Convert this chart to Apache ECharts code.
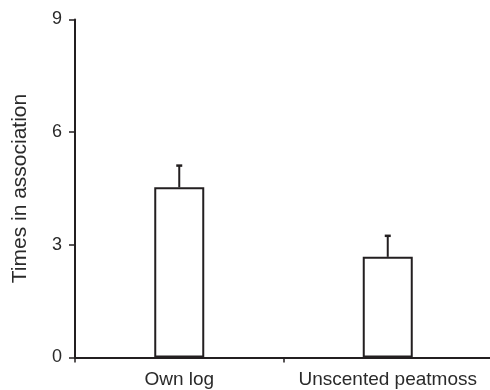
<!DOCTYPE html>
<html>
<head>
    <meta charset="utf-8">
    <script type="text/javascript" src="https://cdn.jsdelivr.net/npm/echarts@6/dist/echarts.min.js"></script>
    <title>Times in association</title>
</head>
<body style="margin:0;">
    <div id="container" style="width:490px;height:390px;"></div>
    <script type="text/javascript">
    // data
    var categories = ['Own log', 'Unscented peatmoss'];
    var means = [4.53, 2.68];
    var errors = [0.58, 0.56];
    var yTicks = [0, 3, 6, 9];

    var ink = '#231f20';
    var font = 'Liberation Sans, Arial, Helvetica, sans-serif';

    var errData = means.map(function (m, i) {
        return [i, m, m + errors[i]];
    });

    var myChart = echarts.init(document.getElementById('container'));

    var option = {
        backgroundColor: '#ffffff',
        animation: false,
        grid: {
            left: 75,
            right: -2,
            top: 19.5,
            bottom: 32.5,
            containLabel: false,
            outerBoundsMode: 'none'
        },
        xAxis: {
            type: 'category',
            data: categories,
            axisLine: { lineStyle: { color: ink, width: 2 } },
            axisTick: { show: true, length: 5, lineStyle: { color: ink, width: 1.5 } },
            axisLabel: { color: '#2a2a2a', fontSize: 19, fontFamily: font, margin: 13, interval: 0, hideOverlap: false }
        },
        yAxis: {
            type: 'value',
            min: yTicks[0],
            max: yTicks[yTicks.length - 1],
            interval: 3,
            splitLine: { show: false },
            axisLine: { show: true, lineStyle: { color: ink, width: 2 } },
            axisTick: { show: true, length: 6, lineStyle: { color: ink, width: 1.5 } },
            axisLabel: { color: '#2a2a2a', fontSize: 18, fontFamily: font, margin: 13 },
            name: 'Times in association',
            nameLocation: 'middle',
            nameGap: 44,
            nameTextStyle: { color: '#2a2a2a', fontSize: 21, fontFamily: font }
        },
        series: [{
            type: 'bar',
            data: means,
            barWidth: 50,
            itemStyle: { color: '#ffffff', borderColor: ink, borderWidth: 2 }
        }, {
            type: 'custom',
            data: errData,
            z: 1,
            renderItem: function (params, api) {
                var base = api.coord([api.value(0), api.value(1)]);
                var top = api.coord([api.value(0), api.value(2)]);
                var half = 3;
                return {
                    type: 'group',
                    children: [{
                        type: 'line',
                        shape: { x1: base[0], y1: base[1], x2: top[0], y2: top[1] },
                        style: { stroke: ink, lineWidth: 2 }
                    }, {
                        type: 'line',
                        shape: { x1: top[0] - half, y1: top[1], x2: top[0] + half, y2: top[1] },
                        style: { stroke: ink, lineWidth: 2.5 }
                    }]
                };
            }
        }]
    };

    myChart.setOption(option);
    </script>
</body>
</html>
